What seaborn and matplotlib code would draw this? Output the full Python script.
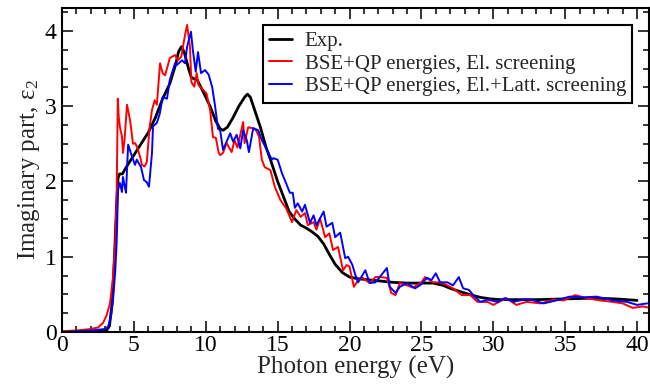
import matplotlib
matplotlib.use("Agg")
import matplotlib.pyplot as plt
from matplotlib.ticker import MultipleLocator
import seaborn as sns
import pandas as pd

# ---- data ----
exp_E = [0, 1, 2, 2.8, 3.1, 3.3, 3.5, 3.65, 3.8, 3.9, 4.0, 4.2, 4.5, 5.0, 5.5, 6.0, 6.5, 7.0, 7.5,
         7.9, 8.1, 8.3, 8.5, 8.8, 9.0, 9.4, 9.8, 10.3, 10.7, 11.0, 11.2, 11.5, 11.9, 12.3, 12.7,
         12.9, 13.1, 13.4, 13.8, 14.2, 14.5, 15.0, 15.4, 15.8, 16.2, 16.6, 17.0, 17.4, 17.8, 18.2,
         18.6, 19.0, 19.5, 20.0, 20.5, 21.0, 22.0, 23.0, 24.0, 25.0, 25.8, 26.5, 27.0, 27.8, 28.5,
         29.1, 29.8, 30.5, 31.5, 33, 35, 37, 38.5, 40]
exp_v = [0.0, 0.0, 0.0, 0.01, 0.02, 0.08, 0.4, 1.0, 1.7, 2.05, 2.1, 2.1, 2.2, 2.35, 2.5, 2.65, 2.85,
         3.1, 3.3, 3.55, 3.72, 3.79, 3.72, 3.5, 3.38, 3.35, 3.2, 3.0, 2.8, 2.7, 2.68, 2.72, 2.85,
         3.0, 3.12, 3.16, 3.12, 2.95, 2.72, 2.45, 2.29, 2.0, 1.8, 1.6, 1.5, 1.42, 1.38, 1.33, 1.27,
         1.17, 1.03, 0.9, 0.79, 0.73, 0.71, 0.7, 0.68, 0.66, 0.65, 0.65, 0.65, 0.62, 0.58, 0.53,
         0.49, 0.46, 0.44, 0.43, 0.43, 0.43, 0.44, 0.45, 0.44, 0.42]

el_E = [0, 1, 2, 2.5, 2.85, 3.1, 3.34, 3.55, 3.7, 3.8, 3.88, 3.95, 4.03, 4.17, 4.24, 4.35, 4.52,
        4.73, 4.94, 5.08, 5.22, 5.43, 5.56, 5.75, 5.9, 6.1, 6.26, 6.45, 6.6, 6.82, 7.0, 7.17, 7.5,
        7.86, 8.07, 8.3, 8.56, 8.7, 8.9, 9.0, 9.2, 9.37, 9.5, 9.8, 10.05, 10.3, 10.5, 10.7, 10.9,
        11.0, 11.2, 11.45, 11.8, 12.0, 12.2, 12.4, 12.6, 12.7, 12.95, 13.2, 13.5, 13.7, 13.9, 14.1,
        14.5, 14.8, 15.2, 15.6, 16.0, 16.3, 16.6, 16.9, 17.1, 17.5, 17.7, 17.95, 18.3, 18.6, 18.85,
        19.2, 19.55, 19.8, 20.0, 20.3, 20.6, 20.9, 21.4, 21.8, 22.1, 22.6, 22.9, 23.2, 23.5, 24.0,
        24.4, 25.0, 25.25, 25.8, 26.3, 26.8, 27.2, 27.8, 28.4, 28.9, 29.6, 30.0, 30.9, 31.6, 32.3,
        33.3, 34.2, 34.9, 35.7, 36.5, 37.4, 38.3, 39.0, 39.7, 40.4, 40.9]
el_v = [0.01, 0.02, 0.04, 0.06, 0.12, 0.22, 0.38, 0.73, 1.2, 1.79, 3.1, 2.85, 2.72, 2.6, 2.38,
        2.55, 3.02, 2.82, 2.5, 2.51, 2.46, 2.33, 2.22, 2.2, 2.26, 2.73, 2.95, 3.08, 3.02, 3.57,
        3.44, 3.41, 3.64, 3.68, 3.61, 3.66, 3.95, 4.08, 3.79, 3.32, 3.26, 3.44, 3.28, 3.22, 3.17,
        2.95, 2.59, 2.58, 2.38, 2.35, 2.38, 2.51, 2.39, 2.55, 2.45, 2.62, 2.79, 2.51, 2.72, 2.71,
        2.68, 2.6, 2.29, 2.19, 2.15, 1.93, 1.75, 1.64, 1.46, 1.62, 1.53, 1.58, 1.42, 1.46, 1.36,
        1.51, 1.26, 1.31, 1.09, 1.13, 0.82, 0.89, 0.87, 0.6, 0.69, 0.72, 0.65, 0.73, 0.73, 0.72,
        0.52, 0.49, 0.65, 0.62, 0.59, 0.66, 0.73, 0.66, 0.66, 0.62, 0.58, 0.49, 0.49, 0.4, 0.4,
        0.36, 0.45, 0.36, 0.4, 0.38, 0.43, 0.42, 0.49, 0.45, 0.42, 0.4, 0.38, 0.32, 0.34, 0.32]

latt_E = [0, 1, 2, 2.5, 3.0, 3.2, 3.4, 3.55, 3.7, 3.8, 3.9, 4.03, 4.17, 4.24, 4.35, 4.45, 4.6,
          4.87, 5.08, 5.2, 5.5, 5.7, 5.9, 6.05, 6.26, 6.33, 6.6, 6.8, 7.0, 7.3, 7.5, 7.86, 8.0,
          8.35, 8.56, 8.7, 8.97, 9.1, 9.3, 9.46, 9.67, 9.95, 10.2, 10.45, 10.65, 10.85, 11.0, 11.2,
          11.45, 11.7, 11.9, 12.15, 12.4, 12.6, 12.85, 13.0, 13.3, 13.65, 13.9, 14.25, 14.6, 14.7,
          15.0, 15.3, 15.6, 15.85, 16.05, 16.2, 16.4, 16.7, 16.9, 17.25, 17.5, 17.7, 18.2, 18.4,
          18.8, 19.0, 19.35, 19.7, 19.9, 20.2, 20.4, 20.6, 21.1, 21.4, 21.8, 22.1, 22.6, 22.8, 23.2,
          23.5, 24.0, 24.55, 24.9, 25.4, 25.7, 26.0, 26.3, 26.8, 27.2, 27.6, 27.9, 28.3, 28.7, 29.1,
          29.6, 30.3, 30.8, 31.4, 32.1, 32.6, 33.5, 34.4, 35.3, 36.2, 37.2, 38.3, 39.3, 40.0, 40.7]
latt_v = [0.0, 0.01, 0.02, 0.03, 0.04, 0.07, 0.2, 0.43, 0.8, 1.18, 1.89, 1.98, 1.86, 2.06, 1.95,
          1.85, 2.49, 2.33, 2.22, 2.29, 2.19, 2.02, 1.99, 1.93, 2.38, 2.73, 2.78, 2.9, 3.12, 3.1,
          3.35, 3.57, 3.55, 3.61, 3.57, 3.79, 3.99, 3.75, 3.46, 3.72, 3.44, 3.48, 3.42, 3.25, 3.0,
          2.7, 2.68, 2.42, 2.53, 2.64, 2.53, 2.62, 2.44, 2.68, 2.55, 2.39, 2.71, 2.68, 2.55, 2.42,
          2.29, 2.31, 2.29, 2.11, 1.97, 1.85, 1.85, 1.65, 1.71, 1.6, 1.69, 1.45, 1.55, 1.42, 1.6,
          1.4, 1.45, 1.26, 1.32, 0.98, 1.0, 0.89, 0.76, 0.66, 0.82, 0.65, 0.66, 0.73, 0.85, 0.6,
          0.52, 0.6, 0.65, 0.58, 0.62, 0.72, 0.69, 0.78, 0.66, 0.66, 0.62, 0.73, 0.58, 0.56, 0.47,
          0.4, 0.43, 0.4, 0.45, 0.4, 0.43, 0.43, 0.38, 0.42, 0.47, 0.46, 0.47, 0.42, 0.4, 0.36, 0.38]

labels = ["Exp.", "BSE+QP energies, El. screening", "BSE+QP energies, El.+Latt. screening"]
colors = ["black", "#ff0000", "#0000ff"]
x_label = "Photon energy (eV)"
y_label = "Imaginary part, ε$_2$"

# ---- figure ----
sns.set_style("ticks")
plt.rcParams["font.family"] = ["Liberation Serif", "DejaVu Serif"]
plt.rcParams["mathtext.fontset"] = "custom"
plt.rcParams["mathtext.rm"] = "Liberation Serif"
plt.rcParams["mathtext.it"] = "Liberation Serif:italic"

fig = plt.figure(figsize=(6.5, 3.88), dpi=100)
ax = fig.add_axes([62 / 650, 1 - 332 / 388, (649 - 62) / 650, (332 - 8) / 388])

frames = [
    pd.DataFrame({"E": exp_E, "v": exp_v}),
    pd.DataFrame({"E": el_E, "v": el_v}),
    pd.DataFrame({"E": latt_E, "v": latt_v}),
]
widths = [2.0, 1.4, 1.4]
for df, lab, col, lw in zip(frames, labels, colors, widths):
    sns.lineplot(data=df, x="E", y="v", ax=ax, color=col, linewidth=lw, label=lab,
                 estimator=None, sort=False)

ax.set_xlim(0, 40.83)
ax.set_ylim(0, 4.305)
ax.xaxis.set_major_locator(MultipleLocator(5))
ax.xaxis.set_minor_locator(MultipleLocator(1))
ax.yaxis.set_major_locator(MultipleLocator(1))
ax.yaxis.set_minor_locator(MultipleLocator(0.25))
ax.tick_params(which="both", direction="in", top=True, right=True, width=1.1, colors="black",
               labelsize=17)
ax.tick_params(axis="x", pad=2)
ax.tick_params(axis="y", pad=4)
ax.tick_params(which="major", length=8)
ax.tick_params(which="minor", length=4.5)
for s in ax.spines.values():
    s.set_linewidth(1.5)
    s.set_color("black")

ax.set_xlabel(x_label, fontsize=18, labelpad=0)
ax.set_ylabel(y_label, fontsize=18, labelpad=2)

leg = ax.legend(loc="upper left", bbox_to_anchor=(263 / 650, 1 - 25 / 388),
                bbox_transform=fig.transFigure, fontsize=15, frameon=True, fancybox=False,
                framealpha=1, edgecolor="black", handlelength=1.1, handletextpad=0.6,
                borderpad=0.3, labelspacing=0.15, borderaxespad=0)
leg.get_frame().set_linewidth(1.5)

fig.savefig("out.png", dpi=100)
